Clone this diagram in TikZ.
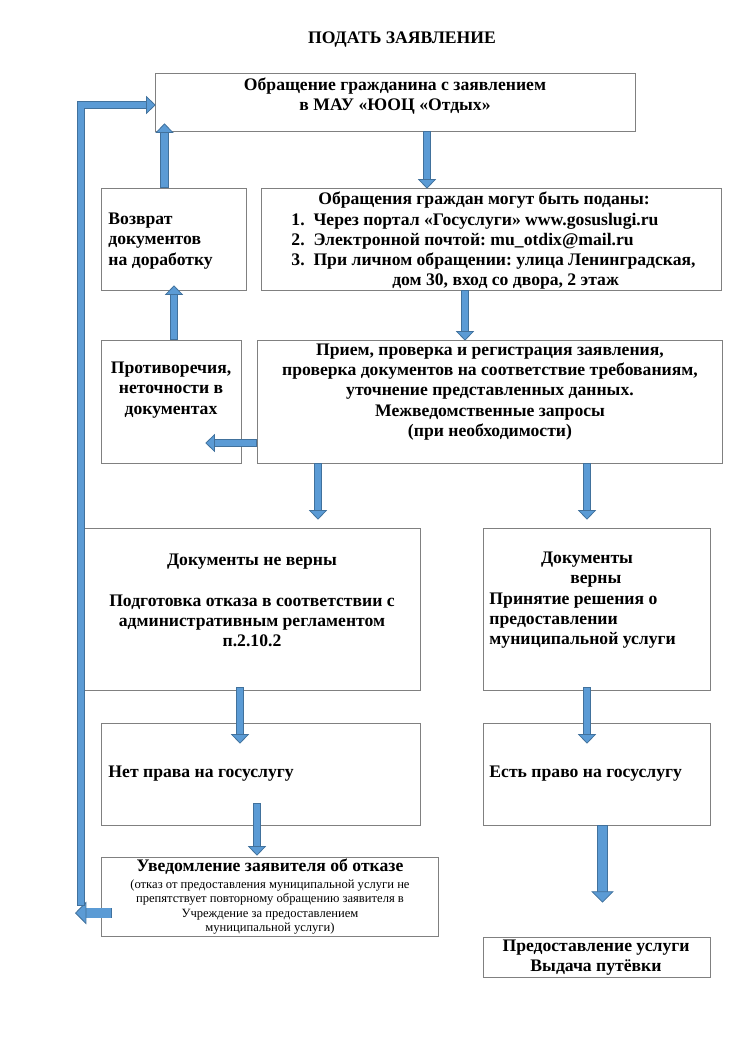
\documentclass[tikz,border=0pt]{standalone}
\usepackage{fontspec}
\setmainfont{Liberation Serif}
\frenchspacing
\usetikzlibrary{arrows.meta,calc,fit}
\definecolor{myarrowblue}{RGB}{91,155,213}
\definecolor{myarrowedge}{RGB}{65,113,156}
\definecolor{myboxgray}{RGB}{128,128,128}
\tikzset{every picture/.style={line width=0.75pt}}
\tikzset{
  box/.style={draw=myboxgray, line width=0.6pt, inner sep=0pt},
  txt/.style={inner sep=0pt, font=\fontsize{14}{16}\selectfont\bfseries},
  smalltxt/.style={inner sep=0pt, font=\fontsize{10}{11.2}\selectfont},
  blk/.style={draw=myarrowedge, line width=0.6pt, double=myarrowblue, double distance=5.2pt,
    line cap=rect, shorten <=3.2pt, -{Triangle[width=14.5pt,length=7.5pt,line width=0.6pt,fill=myarrowblue]}},
  blkbig/.style={blk, double distance=7.2pt, shorten <=4.2pt,
    -{Triangle[width=18pt,length=9pt,line width=0.6pt,fill=myarrowblue]}},
}

\begin{document}
\begin{tikzpicture}[x=0.7938pt,y=0.7938pt,yscale=-1,xscale=1]
\useasboundingbox (0,0) rectangle (750,1060);

% Text Node
\node [txt] (t0) at (402,40) {ПОДАТЬ ЗАЯВЛЕНИЕ};

%Shape: Rectangle [id:b1]
\node [box, fit={(155,73) (635,131)}] (b1) {};
%Shape: Rectangle [id:b2]
\node [box, fit={(101,188) (246,290)}] (b2) {};
%Shape: Rectangle [id:b3]
\node [box, fit={(261,188) (721,290)}] (b3) {};
%Shape: Rectangle [id:b4]
\node [box, fit={(101,340) (241,463)}] (b4) {};
%Shape: Rectangle [id:b5]
\node [box, fit={(257,340) (722,463)}] (b5) {};
%Shape: Rectangle [id:b6]
\node [box, fit={(81,528) (420,690)}] (b6) {};
%Shape: Rectangle [id:b7]
\node [box, fit={(483,528) (710,690)}] (b7) {};
%Shape: Rectangle [id:b8]
\node [box, fit={(101,723) (420,825)}] (b8) {};
%Shape: Rectangle [id:b9]
\node [box, fit={(483,723) (710,825)}] (b9) {};
%Shape: Rectangle [id:b10]
\node [box, fit={(101,857) (438,936)}] (b10) {};
%Shape: Rectangle [id:b11]
\node [box, fit={(483,937) (710,977)}] (b11) {};

% Text Node
\node [txt, align=center] (t1) at (395,96) {Обращение гражданина с заявлением\\в МАУ «ЮОЦ «Отдых»};
% Text Node
\node [txt, align=left, anchor=west] (t2) at (108,241) {Возврат\\документов\\на доработку};
% Text Node
\node [txt] (t3a) at (484,200) {Обращения граждан могут быть поданы:};
% Text Node
\node [txt, align=left, anchor=west] (t3b) at (291,251.5) {\makebox[17.5pt][l]{1.}Через портал «Госуслуги» www.gosuslugi.ru\\
\makebox[17.5pt][l]{2.}Электронной почтой: mu\_otdix@mail.ru\\
\makebox[17.5pt][l]{3.}При личном обращении: улица Ленинградская,\\
\hspace*{80pt}дом 30, вход со двора, 2 этаж};
% Text Node
\node [txt, align=center] (t4) at (171,390) {Противоречия,\\неточности в\\документах};
% Text Node
\node [txt, align=center] (t5) at (490,392) {Прием, проверка и регистрация заявления,\\проверка документов на соответствие требованиям,\\уточнение представленных данных.\\Межведомственные запросы\\(при необходимости)};
% Text Node
\node [txt, align=center] (t6) at (252,600.5) {Документы не верны\\[16pt]Подготовка отказа в соответствии с\\административным регламентом\\п.2.10.2};
% Text Node
\node [txt, align=center] (t7a) at (587,570) {Документы\\\hspace*{1em}верны};
% Text Node
\node [txt, align=left, anchor=west] (t7b) at (489,620.5) {Принятие решения о\\предоставлении\\муниципальной услуги};
% Text Node
\node [txt, anchor=west] (t8) at (108,774) {Нет права на госуслугу};
% Text Node
\node [txt, anchor=west] (t9) at (489,774) {Есть право на госуслугу};
% Text Node
\node [txt] (t10a) at (270,867) {Уведомление заявителя об отказе};
% Text Node
\node [smalltxt, align=center] (t10b) at (270,907) {(отказ от предоставления муниципальной услуги не\\препятствует повторному обращению заявителя в\\Учреждение за предоставлением\\муниципальной услуги)};
% Text Node
\node [txt, align=center] (t11) at (596,958) {Предоставление услуги\\Выдача путёвки};

\coordinate (loopbot) at (81,906);
\coordinate (loopend) at (75,913);

%Right Arrow [id:a1]
\draw [blk] ($(b1.south)+(32,0)$) -- ($(b3.north)+(-64,1)$);
%Up Arrow [id:a2]
\draw [blk] ($(b2.north)+(-9,0)$) -- ($(b2.north |- b1.south)+(-9,-8)$);
%Up Arrow [id:a3]
\draw [blk] ($(b4.north)+(3,0)$) -- ($(b4.north |- b2.south)+(3,-5)$);
%Down Arrow [id:a4]
\draw [blk] ($(b3.south)+(-26,0)$) -- ($(b3.south |- b5.north)+(-26,1)$);
%Left Arrow [id:a5]
\draw [blk] ($(b5.west)+(0,41.5)$) -- ($(b4.east)+(-36,41.5)$);
%Down Arrow [id:a6]
\draw [blk] ($(b5.south)+(-171.5,0)$) -- ($(b5.south |- b6.north)+(-171.5,-8)$);
%Down Arrow [id:a7]
\draw [blk] ($(b5.south)+(97.5,0)$) -- ($(b5.south |- b7.north)+(97.5,-8)$);
%Down Arrow [id:a8]
\draw [blk] ($(b6.south)+(-10.5,-3)$) -- ($(b6.south |- b8.north)+(-10.5,21)$);
%Down Arrow [id:a9]
\draw [blk] ($(b7.south)+(-9.5,-3)$) -- ($(b7.south |- b9.north)+(-9.5,21)$);
%Down Arrow [id:a10]
\draw [blk] ($(b8.south)+(-3.5,-22)$) -- ($(b8.south |- b10.north)+(-3.5,-1)$);
%Down Arrow [id:a11]
\draw [blkbig] ($(b9.south)+(6,0)$) -- ($(b9.south |- b11.north)+(6,-34)$);
%Left Arrow [id:a12]
\draw [blkbig] ($(b10.west)+(11,16.5)$) -- (loopend);
%Bent Up Arrow [id:a13]
\draw [blk] (loopbot) |- ($(b1.west)+(1,3)$);

\end{tikzpicture}
\end{document}
